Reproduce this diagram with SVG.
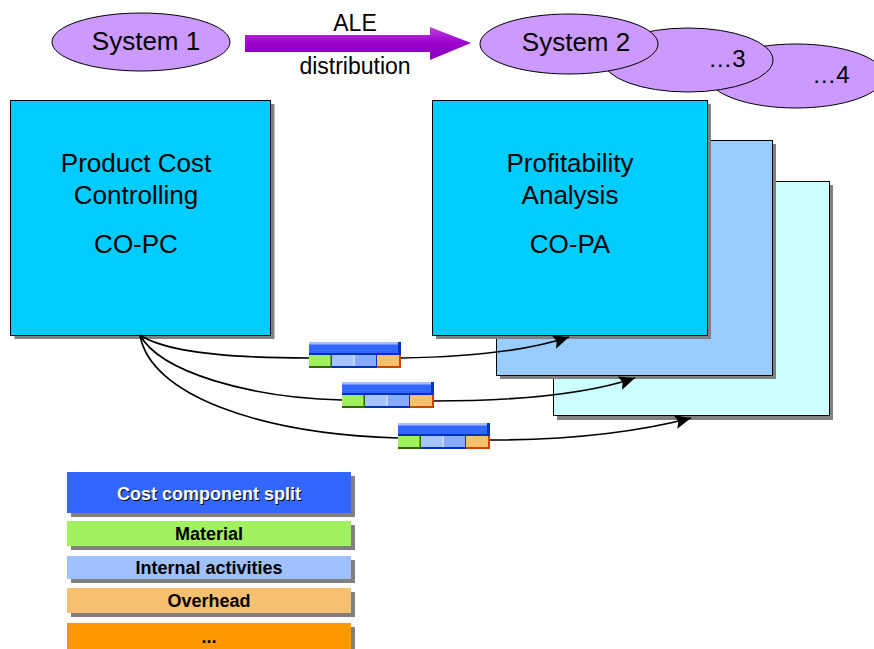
<svg xmlns="http://www.w3.org/2000/svg" xmlns:xlink="http://www.w3.org/1999/xlink" width="874" height="649" viewBox="0 0 874 649">
<style>
  .t { font-family: "Liberation Sans", Arial, sans-serif; fill: #000; }
  .big { font-size: 26px; text-anchor: middle; }
  .mid { font-size: 23px; text-anchor: middle; }
  .leg { font-size: 18px; font-weight: bold; text-anchor: middle; }
  .ell { fill: #CC99FF; stroke: #000; stroke-width: 1; }
  .box { stroke: #000; stroke-width: 1; }
  .shadow { fill: #808080; }
  .conn { fill: none; stroke: #000; stroke-width: 1.6; }
</style>
<defs>
  <linearGradient id="purp" x1="0" y1="0" x2="0" y2="1">
    <stop offset="0" stop-color="#C040E0"/>
    <stop offset="0.5" stop-color="#9900CC"/>
    <stop offset="1" stop-color="#8800BB"/>
  </linearGradient>
  <marker id="ah" markerUnits="userSpaceOnUse" markerWidth="18" markerHeight="14" refX="16" refY="7" orient="auto">
    <path d="M0,0 L16,7 L0,14 L3,7 z" fill="#000"/>
  </marker>
  <g id="icon">
    <rect x="0" y="0" width="92" height="13" fill="#3366FF"/>
    <rect x="0" y="0" width="92" height="2.5" fill="#AABBFF"/>
    <rect x="89" y="0" width="3" height="13" fill="#0033BB"/>
    <rect x="0" y="11" width="92" height="2" fill="#0033BB"/>
    <rect x="0" y="13" width="23" height="13" fill="#A0F060"/>
    <rect x="0" y="24" width="23" height="2" fill="#336600"/>
    <rect x="21.5" y="13" width="1.5" height="13" fill="#336600"/>
    <rect x="23" y="13" width="22" height="13" fill="#A8C4FF"/>
    <rect x="45" y="13" width="23" height="13" fill="#88AAFF"/>
    <rect x="44.5" y="13" width="1.2" height="13" fill="#DDE6FF"/>
    <rect x="23" y="24" width="45" height="2" fill="#0033BB"/>
    <rect x="67" y="13" width="1.5" height="13" fill="#0033BB"/>
    <rect x="68" y="13" width="24" height="13" fill="#F5C070"/>
    <rect x="68" y="24" width="24" height="2" fill="#CC4400"/>
    <rect x="90" y="13" width="2" height="13" fill="#CC4400"/>
  </g>
</defs>
<rect width="874" height="649" fill="#fff"/>

<g id="system4">
  <ellipse class="ell" cx="796" cy="76" rx="88" ry="32"/>
  <text class="t mid" x="831" y="83" style="font-size:24px">…4</text>
</g>
<g id="system3">
  <ellipse class="ell" cx="688" cy="60" rx="85" ry="32"/>
  <text class="t mid" x="727" y="67" style="font-size:24px">…3</text>
</g>
<g id="system2">
  <ellipse class="ell" cx="569" cy="44" rx="89" ry="30"/>
  <text class="t big" x="576" y="51">System 2</text>
</g>
<g id="system1">
  <ellipse class="ell" cx="141" cy="42" rx="89" ry="29"/>
  <text class="t big" x="146" y="50">System 1</text>
</g>

<g id="ale-arrow">
  <polygon points="245,35 430,35 430,27 471,43 430,60 430,52 245,52" fill="url(#purp)"/>
  <text class="t mid" x="355" y="31">ALE</text>
  <text class="t mid" x="355" y="74">distribution</text>
</g>

<g id="co-pc">
  <rect class="shadow" x="14.5" y="104" width="260" height="235"/>
  <rect class="box" x="10.5" y="100.5" width="260" height="235" fill="#00CCFF"/>
  <text class="t big" x="136" y="172">Product Cost</text>
  <text class="t big" x="136" y="204">Controlling</text>
  <text class="t big" x="136" y="253">CO-PC</text>
</g>

<g id="copa3">
  <rect class="shadow" x="557" y="185" width="276" height="235"/>
  <rect class="box" x="553.5" y="181.5" width="276" height="234" fill="#CCFFFF"/>
</g>
<g id="copa2">
  <rect class="shadow" x="500" y="144" width="276" height="235"/>
  <rect class="box" x="496.5" y="140.5" width="276" height="235" fill="#99CCFF"/>
</g>
<g id="co-pa">
  <rect class="shadow" x="436" y="104" width="275" height="235"/>
  <rect class="box" x="432.5" y="100.5" width="275" height="235" fill="#00CCFF"/>
  <text class="t big" x="570" y="172">Profitability</text>
  <text class="t big" x="570" y="204">Analysis</text>
  <text class="t big" x="570" y="253">CO-PA</text>
</g>

<g id="connectors">
  <path class="conn" d="M140,335 C165,352 230,358 309,358 L401,358 C470,357 530,350 569,337" marker-end="url(#ah)"/>
  <path class="conn" d="M140,335 C160,372 250,398 342,400 L433,401 C520,401 590,393 635,378" marker-end="url(#ah)"/>
  <path class="conn" d="M140,335 C150,395 260,434 398,438 L490,440 C580,440 645,430 691,418" marker-end="url(#ah)"/>
  <use xlink:href="#icon" href="#icon" x="309" y="342"/>
  <use xlink:href="#icon" href="#icon" x="342" y="382"/>
  <use xlink:href="#icon" href="#icon" x="398" y="423"/>
</g>

<g id="legend-split">
  <rect class="shadow" x="71" y="476" width="284" height="41"/>
  <rect x="67" y="472" width="284" height="41" fill="#3366FF"/>
  <text class="t leg" x="210" y="501" style="fill:#000">Cost component split</text>
  <text class="t leg" x="209" y="500" style="fill:#fff">Cost component split</text>
</g>
<g id="legend-material">
  <rect class="shadow" x="71" y="525" width="284" height="25"/>
  <rect x="67" y="521" width="284" height="25" fill="#A0F060"/>
  <text class="t leg" x="209" y="540">Material</text>
</g>
<g id="legend-internal">
  <rect class="shadow" x="71" y="560" width="284" height="23"/>
  <rect x="67" y="556" width="284" height="23" fill="#A0C0FF"/>
  <text class="t leg" x="209" y="574">Internal activities</text>
</g>
<g id="legend-overhead">
  <rect class="shadow" x="71" y="592" width="284" height="25"/>
  <rect x="67" y="588" width="284" height="25" fill="#F5C070"/>
  <text class="t leg" x="209" y="607">Overhead</text>
</g>
<g id="legend-more">
  <rect class="shadow" x="71" y="627" width="284" height="26"/>
  <rect x="67" y="623" width="284" height="30" fill="#FF9900"/>
  <text class="t leg" x="209" y="643">...</text>
</g>
</svg>
